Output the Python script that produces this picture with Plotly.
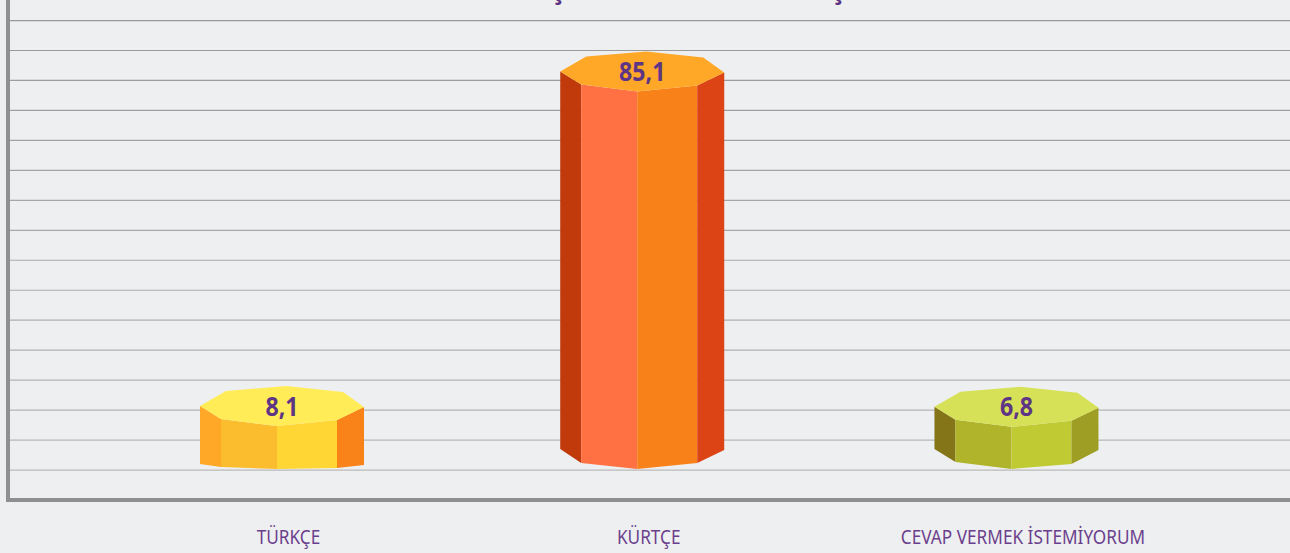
import plotly.graph_objects as go

# ---- data ----
categories = ["TÜRKÇE", "KÜRTÇE", "CEVAP VERMEK İSTEMİYORUM"]
values = [8.1, 85.1, 6.8]
value_labels = ["8,1", "85,1", "6,8"]
title_fragments = ["ş", "ş"]

# ---- layout helpers (not data) ----
W, H = 1290, 553
L, T, PLOT_BOTTOM = 10, 0, 498
GRID_PX = 29.967             # pixels between gridlines
GRID_STEP = 6.9              # axis units between gridlines
PX_PER_UNIT = GRID_PX / GRID_STEP
BASE_PX = 500                # pixel of axis value 0 (just below the drawn axis line)
PX_PER_X = 359.5             # horizontal axis scale
X0_PX = 282                  # pixel of category position 0
cat_pos = [0.0, 1.002, 2.043]
tick_offset = 6.5 / PX_PER_X
FLOOR = 31 / PX_PER_UNIT     # front foot of the columns above the axis base
lift = [1.8, 1.8, 2.9]       # cap perspective added above the value

def dy(px):
    return px / PX_PER_UNIT

def dx(px):
    return px / PX_PER_X

# cap outline, relative to the front vertex of the cap (px right, px up)
CAP = [(-82, 20), (-56, 35), (4, 40), (61, 34), (82, 19), (55, 6), (-5, 0), (-61, 7)]
# foot outline of the five visible wall edges (px up from the front foot)
FEET = [
    [5, 2, 0, 1, 4],
    [20, 6, 0, 6, 19],
    [20, 7, 0, 5, 19],
]
FACES = [
    dict(top="#FFEC57", walls=["#FFA726", "#FBBD2E", "#FFD633", "#F98318"]),
    dict(top="#FFA726", walls=["#C03A0C", "#FF7043", "#F98119", "#DC4315"]),
    dict(top="#D6E157", walls=["#847618", "#AFB42B", "#C0CA33", "#9E9D24"]),
]
TEXT = "#5E3585"
FONT = "Noto Sans, sans-serif"

fig = go.Figure()

for i, v in enumerate(values):
    cx = cat_pos[i]
    top_y = FLOOR + lift[i] + v
    # wall edges, left to right: cap indices 0, 7, 6, 5, 4
    edge = [CAP[0], CAP[7], CAP[6], CAP[5], CAP[4]]
    for k in range(4):
        (x1, up1), (x2, up2) = edge[k], edge[k + 1]
        xs = [cx + dx(x1), cx + dx(x2), cx + dx(x2), cx + dx(x1), cx + dx(x1)]
        ys = [top_y + dy(up1), top_y + dy(up2),
              FLOOR + dy(FEET[i][k + 1]), FLOOR + dy(FEET[i][k]), top_y + dy(up1)]
        fig.add_trace(go.Scatter(x=xs, y=ys, mode="none", fill="toself",
                                 fillcolor=FACES[i]["walls"][k], hoverinfo="skip",
                                 showlegend=False))
    xs = [cx + dx(p[0]) for p in CAP] + [cx + dx(CAP[0][0])]
    ys = [top_y + dy(p[1]) for p in CAP] + [top_y + dy(CAP[0][1])]
    fig.add_trace(go.Scatter(x=xs, y=ys, mode="none", fill="toself",
                             fillcolor=FACES[i]["top"], hoverinfo="skip", showlegend=False))

fig.add_trace(go.Scatter(
    x=cat_pos,
    y=[FLOOR + l + v + dy(17) for l, v in zip(lift, values)],
    mode="text", text=value_labels, textposition="middle center",
    textfont=dict(family=FONT, size=26, color=TEXT, weight="bold"),
    hoverinfo="skip", showlegend=False))

x_min = (L - X0_PX) / PX_PER_X
x_max = (W - X0_PX) / PX_PER_X
y_min = (BASE_PX - PLOT_BOTTOM) / PX_PER_UNIT
y_max = BASE_PX / PX_PER_UNIT

# gridlines fade from darker at the top to lighter at the bottom
N_GRID = 16
for k in range(1, N_GRID + 1):
    t = (k - 1) / (N_GRID - 1)          # 0 = lowest line, 1 = highest line
    shade = round(0xBA + (0x98 - 0xBA) * t)
    fig.add_shape(type="line", layer="below", xref="paper", yref="y",
                  x0=0, x1=1, y0=k * GRID_STEP, y1=k * GRID_STEP,
                  line=dict(color=f"rgb({shade},{shade},{shade})", width=1.2))

fig.update_layout(
    width=W, height=H,
    margin=dict(l=L, r=0, t=T, b=H - PLOT_BOTTOM, pad=0),
    paper_bgcolor="#EEEFF1", plot_bgcolor="#EEEFF1",
    showlegend=False,
    xaxis=dict(
        range=[x_min, x_max],
        tickmode="array",
        tickvals=[p + tick_offset for p in cat_pos],
        ticktext=categories,
        ticks="", showgrid=False, zeroline=False, automargin=False,
        showline=True, linecolor="#8F8F8F", linewidth=4,
        tickfont=dict(family=FONT, size=20, color="#6B3F8C"),
        ticklabelstandoff=18,
    ),
    yaxis=dict(
        range=[y_min, y_max],
        showgrid=False, automargin=False,
        showticklabels=False, ticks="", zeroline=False,
        showline=True, linecolor="#8F8F8F", linewidth=4,
    ),
)

for frag, px in zip(title_fragments, [558, 838]):
    fig.add_annotation(
        x=(px - X0_PX) / PX_PER_X, y=y_max, xref="x", yref="y",
        xanchor="center", yanchor="bottom", yshift=-9, showarrow=False,
        text=frag,
        font=dict(family=FONT, size=26, color=TEXT, weight="bold"),
    )

# The reference typeface is condensed: narrow the real text glyphs to its width.
squeeze = """
function squeeze(sel, f) {
  document.querySelectorAll(sel).forEach(function (t) {
    var w = t.getComputedTextLength();
    t.setAttribute('textLength', w * f);
    t.setAttribute('lengthAdjust', 'spacingAndGlyphs');
  });
}
squeeze('.xtick text', 0.86);
squeeze('.textpoint text', 0.89);
document.body.style.margin = '0';
document.documentElement.style.overflow = 'hidden';
"""

fig.write_html("out.html", config={"displayModeBar": False}, post_script=squeeze)
